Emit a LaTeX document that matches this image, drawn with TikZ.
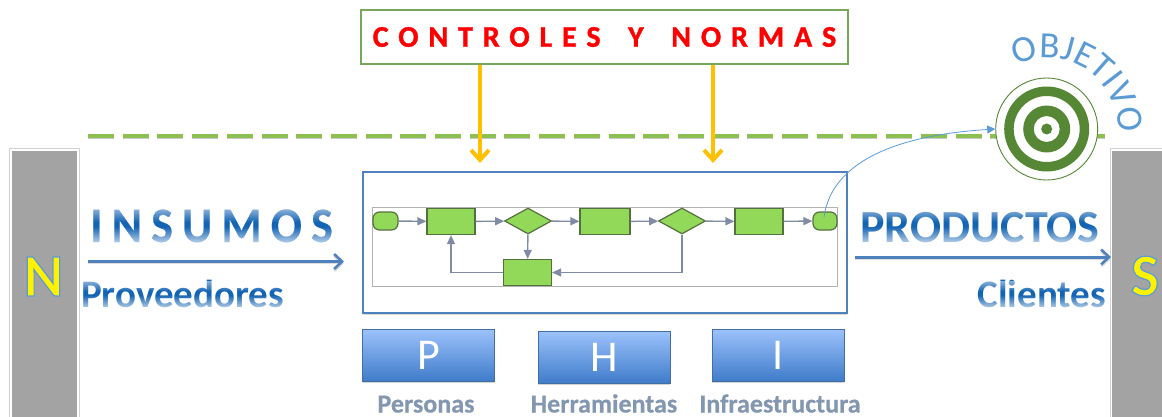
\documentclass[tikz,border=0pt]{standalone}
\usepackage{fontspec}
\setmainfont{Carlito}
\newfontfamily\spaced[LetterSpace=20,FakeBold=0.5]{Carlito}
\newfontfamily\widesp[LetterSpace=33,WordSpace=1.65,FakeBold=1.2]{Carlito}
\newfontfamily\heavy[FakeBold=0.6]{Carlito}
\usetikzlibrary{arrows.meta,shadows,fadings,shapes.geometric,decorations.text,positioning}
\definecolor{flowfill}{HTML}{92D95A}
\definecolor{flowedge}{HTML}{55703F}
\definecolor{flowline}{HTML}{7F8CA3}
\definecolor{steel}{HTML}{4F81BD}
\definecolor{deep}{HTML}{1464B4}
\definecolor{labelgrey}{HTML}{8497B0}
\definecolor{targetgreen}{HTML}{558735}
\definecolor{boxgreen}{HTML}{77A75A}
\definecolor{dashgreen}{HTML}{8CC152}
\definecolor{skyblue}{HTML}{5B9BD5}
\definecolor{amber}{HTML}{FFC000}
\definecolor{restop}{HTML}{9CC2FB}
\definecolor{resbot}{HTML}{3F7CCA}
\tikzset{
  sideframe/.style={draw=black!18,fill=white,line width=.8pt,minimum height=272,anchor=north west,inner sep=0},
  sidebar/.style={fill=black!36,minimum height=267,anchor=north west,inner sep=0},
  flowrect/.style={draw=flowedge,fill=flowfill,line width=1.2pt,minimum width=48,minimum height=26,inner sep=0},
  flowdia/.style={diamond,aspect=1.8,draw=flowedge,fill=flowfill,line width=1.2pt,minimum width=47,minimum height=26,inner sep=0},
  flowterm/.style={rectangle,rounded corners=6.5pt,draw=flowedge,fill=flowfill,line width=1.2pt,minimum width=25,minimum height=18,inner sep=0},
  flowarrow/.style={draw=flowline,line width=1.4pt,-{Triangle[length=9pt,width=8pt]}},
  ctrlarrow/.style={draw=amber,line width=4.6pt,-{Straight Barb[length=10pt,width=18pt,line width=4pt]}},
  mainarrow/.style={draw=steel,line width=3pt,-{Straight Barb[length=8pt,width=15pt,line width=2.6pt]},
    preaction={draw=black!22,opacity=.6,transform canvas={yshift=-2pt},-{Straight Barb[length=8pt,width=15pt,line width=2.6pt]}}},
  resbox/.style={draw=steel!85!black,line width=.8pt,minimum width=132,minimum height=52,top color=restop,bottom color=resbot,
    inner sep=0,text=white,font=\fontsize{44}{44}\selectfont,drop shadow={shadow xshift=0pt,shadow yshift=-2pt,opacity=.35}},
  reslabel/.style={text=labelgrey,font=\fontsize{26}{26}\selectfont\bfseries\heavy,inner sep=0,anchor=base},
  bigword/.style={text=deep,inner sep=0},
  sideletter/.style={inner sep=0,text=yellow,font=\fontsize{60}{60}\selectfont\bfseries},
}
\tikzfading[name=glossdown,top color=transparent!100,bottom color=transparent!25]
\tikzfading[name=glossup,top color=transparent!50,bottom color=transparent!100]
% white veils that give a word its glossy blue gradient: node, top of caps, bottom of caps
\newcommand{\glossover}[3]{%
  \fill[white,path fading=glossup] (#1.west |- 0,#2-2) rectangle (#1.east |- 0,#2+0.35*#3-0.35*#2);
  \fill[white,path fading=glossdown] (#1.west |- 0,#2+0.5*#3-0.5*#2) rectangle (#1.east |- 0,#3+2);
}
\newcommand{\outlined}[1]{\special{pdf:code 0.36 0.61 0.84 RG 1.2 w 2 Tr}#1\special{pdf:code 0 Tr}}
\begin{document}
\begin{tikzpicture}[x=1pt,y=-1pt]
\useasboundingbox (0,0) rectangle (1162,417);
% side bars
\node[sideframe,minimum width=70] (leftf) at (9,148) {};
\node[sidebar,minimum width=65.5] (left) at (11.5,151) {};
\node[sideframe,minimum width=60] (rightf) at (1110,148) {};
\node[sidebar,minimum width=50] (right) at (1112,151) {};
% dashed line
\coordinate (dashL) at (88,136);
\coordinate (dashR) at (1105,136);
\draw[black!35,line width=3.5pt,dash pattern=on 26pt off 8.7pt,opacity=.6] ([yshift=-1.5pt]dashL) -- ([yshift=-1.5pt]dashR);
\draw[dashgreen,line width=3.5pt,dash pattern=on 26pt off 8.7pt] (dashL) -- (dashR);
% title box
\node[draw=boxgreen,line width=1.3pt,minimum width=487,minimum height=54,fill=white,text=red,inner sep=0,
  font=\fontsize{30}{30}\selectfont\widesp\bfseries] (ctrl) at (604.5,37) {CONTROLES Y NORMAS};
% process box
\node[draw=steel,line width=1.6pt,fill=white,minimum width=484,minimum height=141,
  drop shadow={shadow xshift=0pt,shadow yshift=-2pt,opacity=.3}] (proc) at (605,242.5) {};
\node[draw=black!30,line width=.6pt,fill=white,minimum width=465,minimum height=78.5] (lane) at (605,246.7) {};
% yellow arrows
\coordinate (a1) at (480,163);
\coordinate (a2) at (713,163);
\draw[ctrlarrow] (ctrl.south -| a1) -- (a1);
\draw[ctrlarrow] (ctrl.south -| a2) -- (a2);
% flow
\node[flowterm] (start) at (385.5,221) {};
\node[flowrect] (r1) at (451,221.5) {};
\node[flowdia] (d1) at (528,221) {};
\node[flowrect,minimum width=50] (r2) at (605,221.5) {};
\node[flowdia] (d2) at (682,221) {};
\node[flowrect] (r3) at (759,221.5) {};
\node[flowterm,minimum width=24] (end) at (825,221) {};
\node[flowrect] (r4) at (527.5,272.5) {};
\draw[flowarrow] (start) -- (r1);
\draw[flowarrow] (r1) -- (d1);
\draw[flowarrow] (d1) -- (r2);
\draw[flowarrow] (r2) -- (d2);
\draw[flowarrow] (d2) -- (r3);
\draw[flowarrow] (r3) -- (end);
\draw[flowarrow] (d1) -- (r4);
\draw[flowarrow] (d2.south) |- (r4.east);
\draw[flowarrow] (r4.west) -| (r1.south);
% target
\node[circle,draw=targetgreen,line width=.9pt,fill=white,minimum size=102,inner sep=0] (target) at (1046.7,129) {};
\fill[targetgreen,even odd rule] (target.center) circle (42.5) circle (33);
\fill[targetgreen,even odd rule] (target.center) circle (23.5) circle (13);
\fill[targetgreen] (target.center) circle (5.5);
\coordinate (tail) at (824,217);
\draw[skyblue,line width=.8pt,-{Triangle[length=8pt,width=8pt]}] (tail) .. controls (832,160) and (900,135) .. (target.west);
% curved word
\path[decorate,decoration={text along path,text align=center,
  text={|\fontsize{37}{37}\selectfont\color{skyblue}|OBJETIVO}}]
  (1047,129) ++(-117:71) arc[start angle=-117,end angle=4,radius=71];
% words
\node[bigword,font=\fontsize{46}{46}\selectfont\spaced\bfseries,anchor=base west,yscale=1.08,transform shape] (ins) at (90,242) {INSUMOS};
\node[bigword,font=\fontsize{39}{39}\selectfont\bfseries,anchor=base west] (prov) at (81,307) {Proveedores};
\node[bigword,font=\fontsize{46}{46}\selectfont\bfseries,anchor=base] (prod) at (980,242) {PRODUCTOS};
\node[bigword,font=\fontsize{39}{39}\selectfont\bfseries,anchor=base east] (cli) at (1106,307) {Clientes};
\glossover{ins}{211}{242}
\glossover{prov}{283}{307}
\glossover{prod}{211}{242}
\glossover{cli}{283}{307}
% arrows
\coordinate (i0) at (88,261.5);
\coordinate (i1) at (344,261.5);
\coordinate (o0) at (855,257);
\coordinate (o1) at (1111,257);
\draw[mainarrow] (i0) -- (i1);
\draw[mainarrow] (o0) -- (o1);
% side letters
\node[sideletter] (nn) at (43.5,276.5) {\outlined{N}};
\node[sideletter] (ss) at (1145,276) {\outlined{S}};
% resources
\node[resbox] (p) at (428.5,355) {P};
\node[resbox] (h) at (604,357) {H};
\node[resbox] (ii) at (778,355) {I};
\node[reslabel] (pl) at (426,412.5) {Personas};
\node[reslabel] (hl) at (604,412.5) {Herramientas};
\node[reslabel] (il) at (780,412.5) {Infraestructura};
\end{tikzpicture}
\end{document}
